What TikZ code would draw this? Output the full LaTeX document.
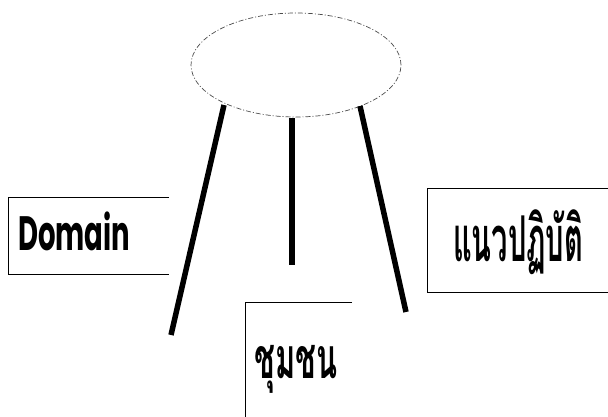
\documentclass[tikz,border=0pt]{standalone}
\usepackage{fontspec}
\usepackage{graphicx}
\setmainfont{Poppins}
\newfontfamily\thaifont[Script=Thai]{Loma}
\usetikzlibrary{shapes.geometric}
\tikzset{
  leg/.style={line width=5.5pt},
  boxline/.style={line width=0.9pt},
  lbl/.style={inner sep=0pt, anchor=north west},
  top/.style={ellipse, draw=black!70, line width=0.7pt,
    dash pattern=on 5pt off 2pt on 1pt off 2pt,
    minimum width=210pt, minimum height=104pt, inner sep=0pt}
}
\begin{document}
\begin{tikzpicture}[x=1pt,y=-1pt]
\useasboundingbox[fill=white] (0,0) rectangle (608,416);
% table top
\node[top] (tabletop) at (296,65) {};
% legs
\coordinate (l1a) at (224,105);
\coordinate (l1b) at (171,335);
\coordinate (l2a) at (292,118);
\coordinate (l2b) at (292,265);
\coordinate (l3a) at (360,106);
\coordinate (l3b) at (406,312);
\draw[leg] (l1a) -- (l1b);
\draw[leg] (l2a) -- (l2b);
\draw[leg] (l3a) -- (l3b);
% Domain box (open on right)
\draw[boxline] (169,197) -- (8,197) -- (8,274) -- (169,274);
\node[lbl] (domain) at (18,212) {\resizebox*{112pt}{39pt}{\bfseries Domain}};
% practice box
\draw[boxline] (609,188) -- (427,188) -- (427,292) -- (609,292);
\node[lbl] (practice) at (453,210) {\resizebox*{130pt}{65pt}{\thaifont\bfseries แนวปฏิบัติ}};
% community box
\draw[boxline] (352,302) -- (245,302) -- (245,417);
\node[lbl] (community) at (254,345) {\resizebox*{83pt}{48pt}{\thaifont\bfseries ชุมชน}};
\end{tikzpicture}
\end{document}
